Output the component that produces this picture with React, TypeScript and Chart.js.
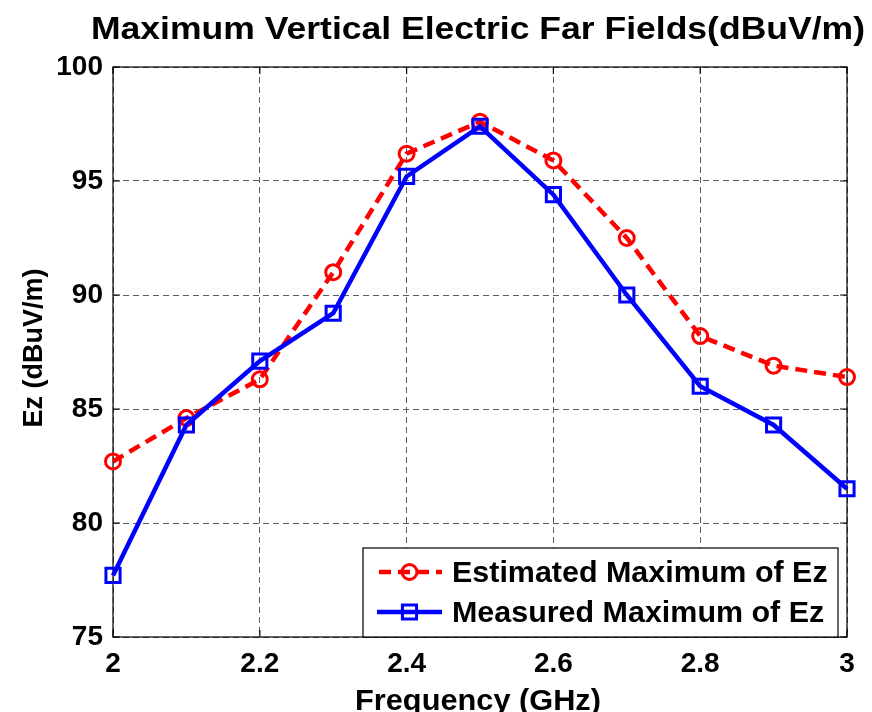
import { useEffect, useRef } from 'react';
import { Chart, registerables } from 'chart.js';

Chart.register(...registerables);

const FONT = '"Liberation Sans", Arial, Helvetica, sans-serif';

// Frequency sweep (GHz)
const frequencies = [2.0, 2.1, 2.2, 2.3, 2.4, 2.5, 2.6, 2.7, 2.8, 2.9, 3.0];
// Peak vertical field strength, dBuV/m
const estimatedEz = [82.7, 84.6, 86.3, 91.0, 96.2, 97.6, 95.9, 92.5, 88.2, 86.9, 86.4];
const measuredEz = [77.7, 84.3, 87.1, 89.2, 95.2, 97.4, 94.4, 90.0, 86.0, 84.3, 81.5];

const xTicks = [2, 2.2, 2.4, 2.6, 2.8, 3];
const yTicks = [75, 80, 85, 90, 95, 100];

const titleText = 'Maximum Vertical Electric Far Fields(dBuV/m)';
const xTitle = 'Frequency (GHz)';
const yTitle = 'Ez (dBuV/m)';
const seriesNames = ['Estimated Maximum of Ez', 'Measured Maximum of Ez'];

const RED = '#ff0000';
const BLUE = '#0000ff';
const RED_DASH = [12, 7];

function drawLabel(
  ctx: CanvasRenderingContext2D,
  text: string,
  x: number,
  y: number,
  size: number,
  align: CanvasTextAlign,
  scaleX: number,
  rotate = 0
) {
  ctx.save();
  ctx.font = `bold ${size}px ${FONT}`;
  ctx.fillStyle = '#000';
  ctx.textAlign = align;
  ctx.textBaseline = 'alphabetic';
  ctx.translate(x, y);
  if (rotate) ctx.rotate(rotate);
  ctx.scale(scaleX, 1);
  ctx.fillText(text, 0, 0);
  ctx.restore();
}

// Axes box with inward tick marks on all four sides
const axesBox = {
  id: 'axesBox',
  beforeDatasetsDraw(chart: any) {
    const { ctx, chartArea: a, scales } = chart;
    const tick = 7;
    ctx.save();
    ctx.strokeStyle = '#000';
    ctx.lineWidth = 1.2;
    ctx.setLineDash([]);
    ctx.beginPath();
    for (const v of xTicks) {
      const px = scales.x.getPixelForValue(v);
      ctx.moveTo(px, a.bottom);
      ctx.lineTo(px, a.bottom - tick);
      ctx.moveTo(px, a.top);
      ctx.lineTo(px, a.top + tick);
    }
    for (const v of yTicks) {
      const py = scales.y.getPixelForValue(v);
      ctx.moveTo(a.left, py);
      ctx.lineTo(a.left + tick, py);
      ctx.moveTo(a.right, py);
      ctx.lineTo(a.right - tick, py);
    }
    ctx.stroke();
    ctx.strokeRect(a.left, a.top, a.right - a.left, a.bottom - a.top);
    ctx.restore();
  },
};

// Titles and the in-plot legend
const annotations = {
  id: 'annotations',
  afterDraw(chart: any) {
    const { ctx, chartArea: a } = chart;
    const cx = (a.left + a.right) / 2;
    const cy = (a.top + a.bottom) / 2;

    // main title, stretched to the axes width
    ctx.save();
    ctx.font = `bold 32px ${FONT}`;
    const tw = ctx.measureText(titleText).width;
    ctx.restore();
    drawLabel(ctx, titleText, cx - 2, 39, 32, 'center', 774 / tw);

    drawLabel(ctx, xTitle, cx - 2, 710, 29, 'center', 1.06);
    drawLabel(ctx, yTitle, 42, cy - 4, 27, 'center', 1, -Math.PI / 2);

    // legend
    const w = 475;
    const h = 89;
    const right = a.right - 9;
    const left = right - w;
    const bottom = a.bottom;
    const top = bottom - h;
    ctx.save();
    ctx.fillStyle = '#fff';
    ctx.fillRect(left, top, w, h);
    ctx.strokeStyle = '#000';
    ctx.lineWidth = 1.2;
    ctx.strokeRect(left, top, w, h);

    const rows = [
      { color: RED, dash: RED_DASH, style: 'circle', radius: 7.5 },
      { color: BLUE, dash: [], style: 'rect', radius: 10 },
    ];
    rows.forEach((r, i) => {
      const y = top + 24 + i * 40;
      const x0 = left + 14;
      const x1 = left + 79;
      ctx.save();
      ctx.strokeStyle = r.color;
      ctx.lineWidth = 4.5;
      ctx.setLineDash(r.dash);
      ctx.lineDashOffset = -2;
      ctx.beginPath();
      ctx.moveTo(x0, y);
      ctx.lineTo(x1, y);
      ctx.stroke();
      ctx.setLineDash([]);
      ctx.lineWidth = 3;
      ctx.beginPath();
      const mx = (x0 + x1) / 2;
      if (r.style === 'circle') {
        ctx.arc(mx, y, r.radius, 0, Math.PI * 2);
      } else {
        const s = r.radius * Math.SQRT1_2;
        ctx.rect(mx - s, y - s, 2 * s, 2 * s);
      }
      ctx.stroke();
      ctx.restore();
      drawLabel(ctx, seriesNames[i], left + 89, y + 10, 29, 'left', 1.05);
    });
    ctx.restore();
  },
};

export default function App() {
  const canvasRef = useRef<HTMLCanvasElement | null>(null);

  useEffect(() => {
    const canvas = canvasRef.current;
    if (!canvas) return;

    const tickFont = { size: 28, weight: 'bold' as const, family: FONT };
    const fmt = (v: any) => String(Number(Number(v).toFixed(1)));

    const chart = new Chart(canvas, {
      type: 'line',
      data: {
        datasets: [
          {
            label: seriesNames[0],
            data: frequencies.map((f, i) => ({ x: f, y: estimatedEz[i] })),
            borderColor: RED,
            borderWidth: 4.5,
            borderDash: RED_DASH,
            pointStyle: 'circle',
            pointRadius: 7.5,
            pointBorderWidth: 3,
            pointBorderColor: RED,
            pointBackgroundColor: 'rgba(0,0,0,0)',
            tension: 0,
            order: 1,
            clip: false as any,
          },
          {
            label: seriesNames[1],
            data: frequencies.map((f, i) => ({ x: f, y: measuredEz[i] })),
            borderColor: BLUE,
            borderWidth: 4.5,
            pointStyle: 'rect',
            pointRadius: 10,
            pointBorderWidth: 3,
            pointBorderColor: BLUE,
            pointBackgroundColor: 'rgba(0,0,0,0)',
            tension: 0,
            order: 0,
            clip: false as any,
          },
        ],
      },
      options: {
        responsive: false,
        animation: false,
        devicePixelRatio: 1,
        events: [],
        layout: { padding: { left: 0, right: 25, top: 67, bottom: 0 } },
        plugins: {
          legend: { display: false },
          tooltip: { enabled: false },
          title: { display: false },
        },
        scales: {
          x: {
            type: 'linear',
            min: 2,
            max: 3,
            afterBuildTicks: (s: any) => {
              s.ticks = xTicks.map((v) => ({ value: v }));
            },
            afterFit: (s: any) => {
              s.height = 75;
            },
            ticks: {
              font: tickFont,
              color: '#000',
              padding: 10,
              maxRotation: 0,
              autoSkip: false,
              callback: fmt,
            },
            grid: { color: '#5e5e5e', lineWidth: 1, drawTicks: false },
            border: { display: false, dash: [6, 4] },
          },
          y: {
            type: 'linear',
            min: 75,
            max: 100,
            afterBuildTicks: (s: any) => {
              s.ticks = yTicks.map((v) => ({ value: v }));
            },
            afterFit: (s: any) => {
              s.width = 113;
            },
            ticks: {
              font: tickFont,
              color: '#000',
              padding: 10,
              autoSkip: false,
              callback: fmt,
            },
            grid: { color: '#5e5e5e', lineWidth: 1, drawTicks: false },
            border: { display: false, dash: [6, 4] },
          },
        },
      },
      plugins: [axesBox, annotations],
    });

    return () => chart.destroy();
  }, []);

  return (
    <div style={{ position: 'absolute', left: 0, top: 0, width: 872, height: 712, background: '#fff' }}>
      <canvas ref={canvasRef} width={872} height={712} style={{ display: 'block' }} />
    </div>
  );
}
